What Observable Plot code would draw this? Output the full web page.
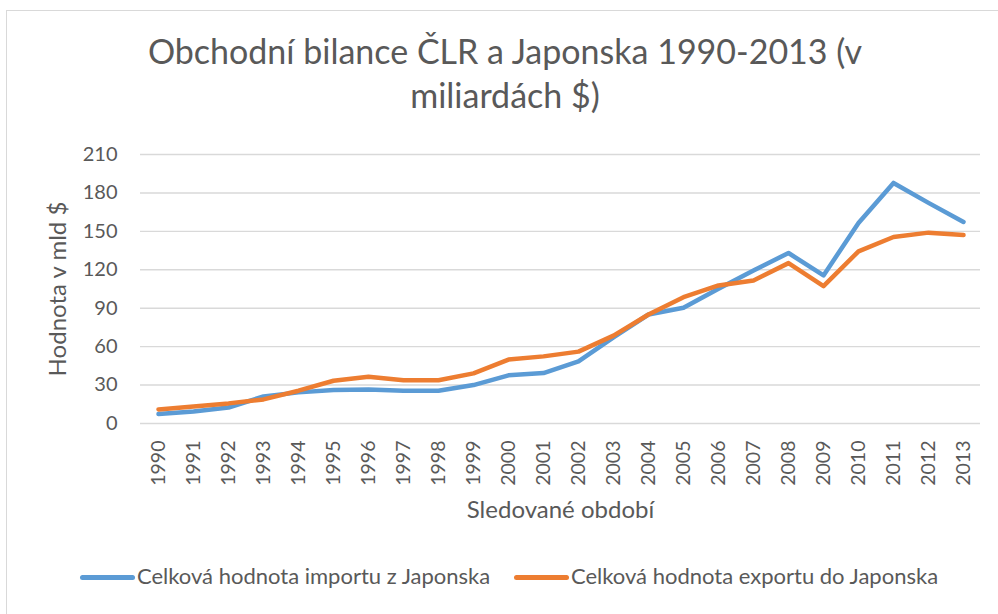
<!DOCTYPE html>
<html>
<head>
<meta charset="utf-8">
<script src="https://cdn.jsdelivr.net/npm/d3@7"></script>
<script src="https://cdn.jsdelivr.net/npm/@observablehq/plot@0.6"></script>
<style>
  html, body { margin: 0; padding: 0; background: #fff; }
  body { width: 998px; height: 614px; position: relative; overflow: hidden; font-family: Lato, "Open Sans", sans-serif; color: #595959; }
  #frame { position: absolute; left: 6px; top: 10px; width: 1000px; height: 620px; border: 1px solid #d9d9d9; box-sizing: border-box; }
  #title { position: absolute; left: 100px; width: 810px; top: 29px; text-align: center; font-size: 34px; line-height: 44px; color: #595959; }
  #chart { position: absolute; left: 0; top: 130px; }
  #legend { position: absolute; top: 562px; left: 0; width: 998px; height: 28px; font-size: 22px; color: #595959; }
  .item { position: absolute; top: 0; white-space: nowrap; line-height: 28px; }
  .sw { display: inline-block; width: 55px; height: 5px; border-radius: 2.5px; vertical-align: middle; margin-right: 2px; position: relative; top: -1px; }
</style>
</head>
<body>
<div id="frame"></div>
<div id="title">Obchodní bilance ČLR a Japonska 1990-2013 (v<br>miliardách $)</div>
<div id="chart"></div>
<div id="legend"></div>
<script>
const years = ["1990","1991","1992","1993","1994","1995","1996","1997","1998","1999","2000","2001","2002","2003","2004","2005","2006","2007","2008","2009","2010","2011","2012","2013"];
const importValues = [7.4, 9.4, 12.5, 21.1, 24.3, 26.1, 26.6, 25.6, 25.6, 30.0, 37.6, 39.4, 48.5, 67.3, 85.1, 90.3, 105.2, 119.5, 133.1, 115.6, 156.5, 187.8, 172.2, 157.3];
const exportValues = [11.0, 13.3, 15.7, 18.8, 25.6, 33.4, 36.5, 33.7, 33.7, 39.1, 49.9, 52.4, 56.1, 68.6, 85.1, 98.6, 107.8, 111.7, 125.2, 107.2, 134.4, 145.6, 149.0, 147.1];
const seriesNames = ["Celková hodnota importu z Japonska", "Celková hodnota exportu do Japonska"];
const seriesColors = ["#5b9bd5", "#ed7d31"];
const yTicks = [0, 30, 60, 90, 120, 150, 180, 210];
const yLabel = "Hodnota v mld $";
const xLabel = "Sledované období";

const rows = [];
[importValues, exportValues].forEach((vals, si) => {
  vals.forEach((v, i) => rows.push({year: years[i], value: v, series: seriesNames[si]}));
});

const chart = Plot.plot({
  width: 998,
  height: 400,
  marginLeft: 140,
  marginRight: 18,
  marginTop: 24,
  marginBottom: 107,
  style: {fontFamily: "Lato, 'Open Sans', sans-serif", color: "#595959", background: "transparent"},
  x: {type: "point", domain: years, padding: 0.5},
  y: {domain: [0, 210]},
  color: {domain: seriesNames, range: seriesColors},
  marks: [
    Plot.gridY(yTicks, {stroke: "#d9d9d9", strokeOpacity: 1, strokeWidth: 1.4}),
    Plot.axisY(yTicks, {tickSize: 0, tickPadding: 23, fontSize: 20, fill: "#595959", label: null}),
    Plot.axisX({tickSize: 0, tickPadding: 17, tickRotate: -90, fontSize: 19.5, fill: "#595959", label: null}),
    Plot.line(rows, {x: "year", y: "value", z: "series", stroke: "series", strokeWidth: 4.5, strokeLinejoin: "round", strokeLinecap: "round"}),
    Plot.text([xLabel], {text: d => d, frameAnchor: "bottom", dy: 87, fontSize: 24, fill: "#595959", textAnchor: "middle", lineAnchor: "middle"}),
    Plot.text([yLabel], {text: d => d, frameAnchor: "left", dx: -82, rotate: -90, fontSize: 24, fill: "#595959", textAnchor: "middle", lineAnchor: "middle"})
  ]
});
document.getElementById("chart").appendChild(chart);

const legend = document.getElementById("legend");
const lefts = [80, 514];
seriesNames.forEach((name, i) => {
  const item = document.createElement("div");
  item.className = "item";
  item.style.left = lefts[i] + "px";
  const sw = document.createElement("span");
  sw.className = "sw";
  sw.style.background = seriesColors[i];
  item.appendChild(sw);
  item.appendChild(document.createTextNode(name));
  legend.appendChild(item);
});
</script>
</body>
</html>
